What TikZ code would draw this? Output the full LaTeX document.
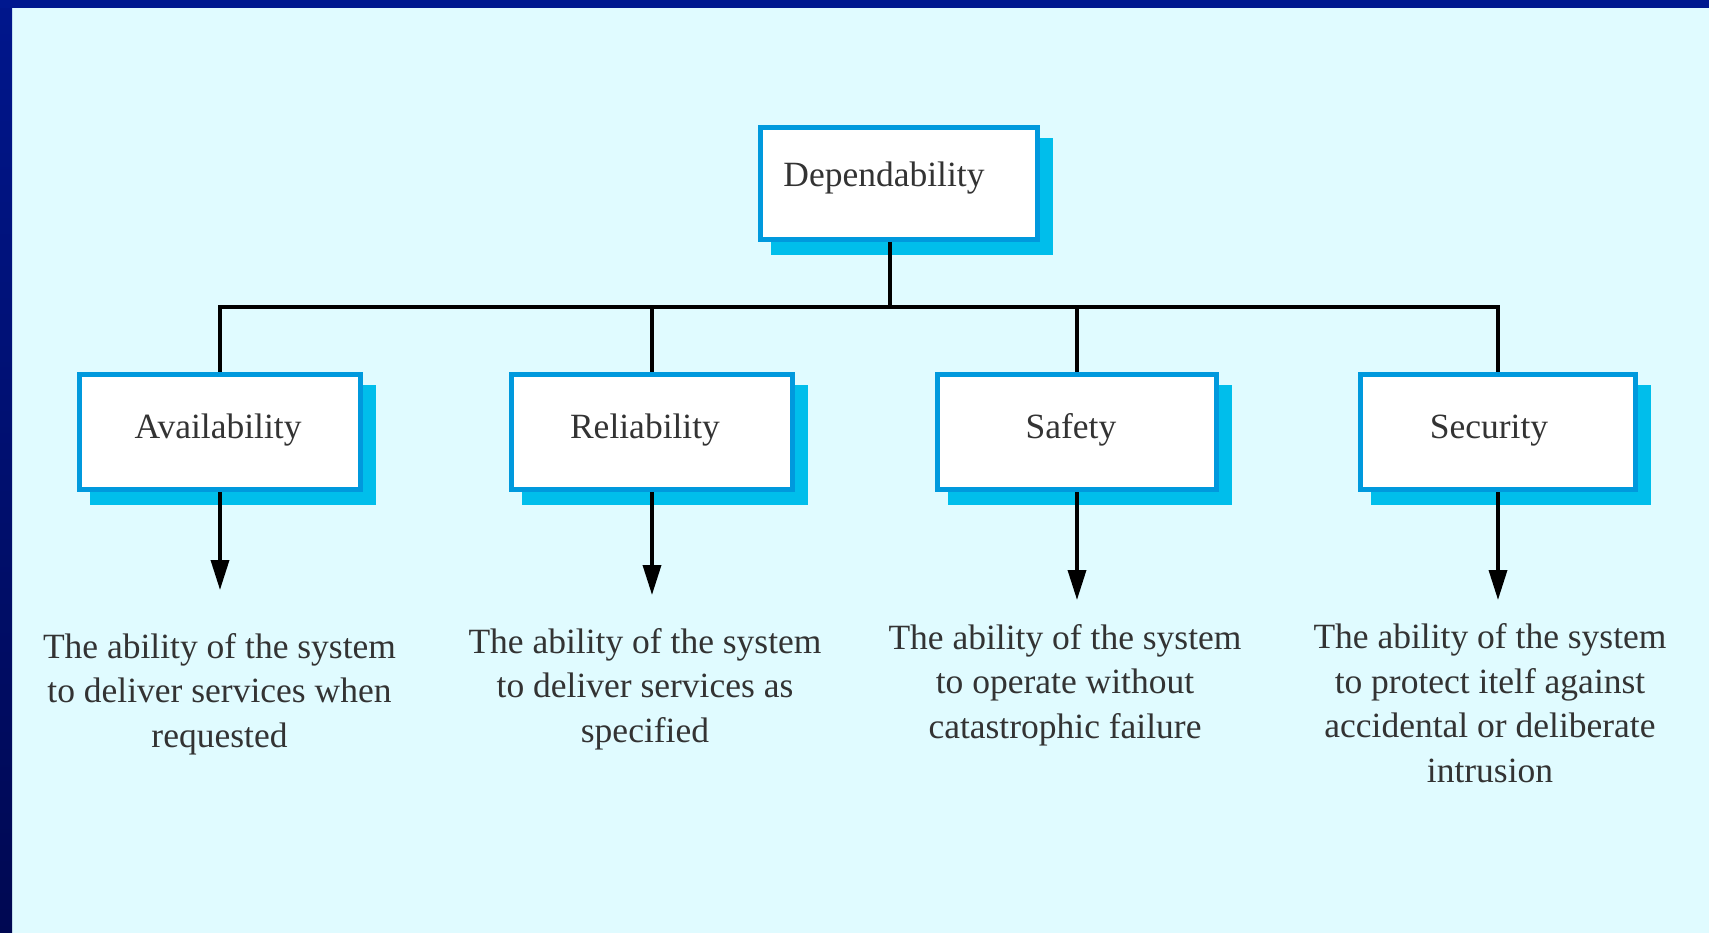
\documentclass[tikz,border=0pt]{standalone}
\usepackage{fontspec}
\setmainfont{Liberation Serif}
\usetikzlibrary{arrows.meta,backgrounds}
\definecolor{bgc}{RGB}{224,251,255}
\definecolor{topbar}{RGB}{0,24,143}
\definecolor{lefttop}{RGB}{0,22,140}
\definecolor{leftbot}{RGB}{0,8,82}
\definecolor{boxline}{RGB}{0,153,221}
\definecolor{shadowc}{RGB}{0,190,235}
\definecolor{txt}{RGB}{51,51,51}
\begin{document}
\begin{tikzpicture}[x=1pt,y=-1pt,
  box/.style={draw=boxline,line width=5pt,fill=white,minimum width=281pt,minimum height=115pt,inner sep=0pt},
  topbox/.style={box,minimum width=277pt,minimum height=112pt},
  lbl/.style={anchor=base,text=txt,font=\fontsize{35.5}{44.5}\selectfont,inner sep=0pt},
  desc/.style={lbl,align=center},
  conn/.style={line width=3.5pt,draw=black},
  arr/.style={conn,-{Triangle[length=30pt,width=18pt]}},
  shad/.style={fill=shadowc}
]
\useasboundingbox (0,0) rectangle (1709,933);

% boxes
\node[topbox] (dep) at (899,183.5) {};
\node[box] (av) at (220,432) {};
\node[box] (re) at (652,432) {};
\node[box,minimum width=279pt] (sa) at (1077,432) {};
\node[box,minimum width=275pt] (se) at (1498,432) {};

% labels
\node[lbl] (depL) at (884,187) {Dependability};
\node[lbl] (avL) at (218,438) {Availability};
\node[lbl] (reL) at (645,438) {Reliability};
\node[lbl] (saL) at (1071,438) {Safety};
\node[lbl] (seL) at (1489,438) {Security};

% descriptions (base anchor = baseline of the last line)
\node[desc] (avD) at (219.5,747) {The ability of the system\\to deliver services when\\requested};
\node[desc] (reD) at (645,742) {The ability of the system\\to deliver services as\\specified};
\node[desc] (saD) at (1065,738) {The ability of the system\\to operate without\\catastrophic failure};
\node[desc] (seD) at (1490,782) {The ability of the system\\to protect itelf against\\accidental or deliberate\\intrusion};

% background, frame and shadows
\begin{scope}[on background layer]
  \fill[bgc] (0,0) rectangle (1709,933);
  \shade[top color=lefttop,bottom color=leftbot] (0,0) rectangle (12,933);
  \fill[topbar] (0,0) rectangle (1709,8);
  \foreach \n in {dep,av,re,sa,se}
    \fill[shad] ([shift={(13,13)}]\n.north west) rectangle ([shift={(13,13)}]\n.south east);
\end{scope}

% connectors
\coordinate (j) at (890,307);
\draw[conn] (dep.south -| j) -- (j);
\draw[conn] (av.north) -- (av.north |- j) -- (se.north |- j) -- (se.north);
\draw[conn] (re.north) -- (re.north |- j);
\draw[conn] (sa.north) -- (sa.north |- j);

\coordinate (tA) at (220,590);
\coordinate (tR) at (652,595);
\coordinate (tS) at (1077,600);
\coordinate (tX) at (1498,600);
\draw[arr] (av.south) -- (tA);
\draw[arr] (re.south) -- (tR);
\draw[arr] (sa.south) -- (tS);
\draw[arr] (se.south) -- (tX);
\end{tikzpicture}
\end{document}
